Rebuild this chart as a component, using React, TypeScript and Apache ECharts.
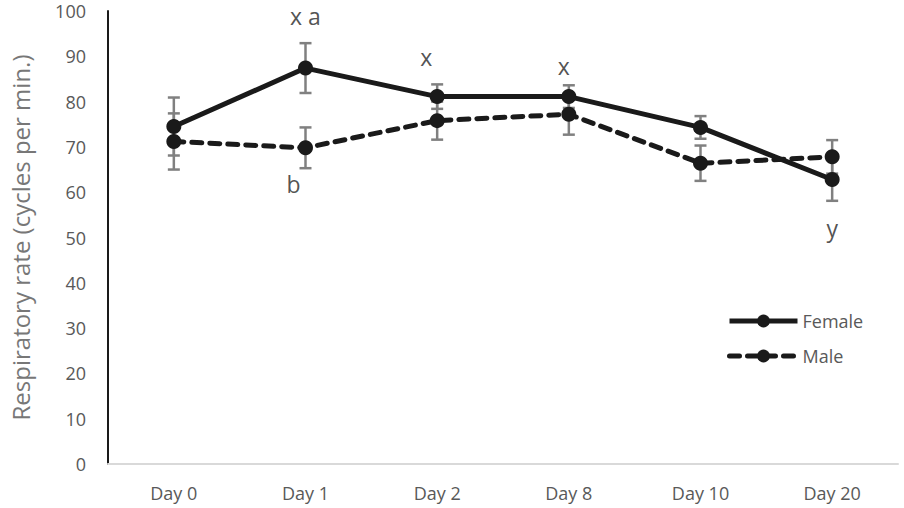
import React, { useEffect, useRef } from "react";
import * as echarts from "echarts";

const categories = ["Day 0", "Day 1", "Day 2", "Day 8", "Day 10", "Day 20"];
const femaleMean = [74.5, 87.4, 81.1, 81.1, 74.3, 62.8];
const femaleErr = [6.4, 5.5, 2.7, 2.5, 2.5, 4.7];
const maleMean = [71.2, 69.8, 75.8, 77.2, 66.4, 67.8];
const maleErr = [6.2, 4.5, 4.2, 4.5, 3.9, 3.7];

const annotationCats = ["Day 1", "Day 2", "Day 8", "Day 1", "Day 20"];
const annotationValues = [98.9, 89.9, 87.9, 61.9, 52.0];
const annotationTexts = ["x a", "x", "x", "b", "y"];
const annotationShift = [0, -11, -5, -12, 0];

const FONT = "'Open Sans', 'Noto Sans', sans-serif";

function errorSeries(name: string, mean: number[], err: number[]) {
  return {
    type: "custom",
    name: name + " err",
    z: 1,
    silent: true,
    data: categories.map((_, i) => [i, mean[i] + err[i], mean[i] - err[i]]),
    renderItem: (params: any, api: any) => {
      const x = api.value(0);
      const hi = api.coord([x, api.value(1)]);
      const lo = api.coord([x, api.value(2)]);
      const w = 6;
      const style = { stroke: "#808080", lineWidth: 2.5 };
      return {
        type: "group",
        children: [
          { type: "line", shape: { x1: hi[0], y1: hi[1], x2: lo[0], y2: lo[1] }, style },
          { type: "line", shape: { x1: hi[0] - w, y1: hi[1], x2: hi[0] + w, y2: hi[1] }, style },
          { type: "line", shape: { x1: lo[0] - w, y1: lo[1], x2: lo[0] + w, y2: lo[1] }, style },
        ],
      };
    },
  };
}

export default function App() {
  const ref = useRef<HTMLDivElement>(null);
  useEffect(() => {
    if (!ref.current) return;
    const chart = echarts.init(ref.current, undefined, { renderer: "svg" });
    chart.setOption({
      animation: false,
      textStyle: { fontFamily: FONT },
      grid: { left: 106, right: 6, top: 11, bottom: 44 },
      legend: {
        orient: "vertical",
        left: 722,
        top: 307,
        itemWidth: 68,
        itemHeight: 16,
        itemGap: 17,
        data: ["Female", "Male"],
        lineStyle: { width: 5 },
        textStyle: { fontSize: 18, color: "#595959", fontFamily: FONT },
      },
      xAxis: {
        type: "category",
        data: categories,
        boundaryGap: true,
        axisLine: { lineStyle: { color: "#d9d9d9", width: 2 } },
        axisTick: { show: false },
        axisLabel: { fontSize: 18, color: "#595959", margin: 20, fontFamily: FONT },
        splitLine: { show: false },
      },
      yAxis: {
        type: "value",
        min: 0,
        max: 100,
        interval: 10,
        name: "Respiratory rate (cycles per min.)",
        nameLocation: "middle",
        nameGap: 76,
        nameTextStyle: { fontSize: 24, color: "#777777", fontFamily: FONT },
        axisLine: { show: true, lineStyle: { color: "#1a1a1a", width: 2 } },
        axisTick: { show: false },
        axisLabel: { fontSize: 18, color: "#595959", margin: 22, fontFamily: FONT },
        splitLine: { show: false },
      },
      series: [
        errorSeries("Female", femaleMean, femaleErr),
        errorSeries("Male", maleMean, maleErr),
        {
          type: "line",
          name: "Female",
          z: 3,
          data: femaleMean,
          symbol: "circle",
          symbolSize: 15,
          itemStyle: { color: "#1a1a1a" },
          lineStyle: { color: "#1a1a1a", width: 5 },
        },
        {
          type: "line",
          name: "Male",
          z: 2,
          data: maleMean,
          symbol: "circle",
          symbolSize: 15,
          itemStyle: { color: "#1a1a1a" },
          lineStyle: { color: "#1a1a1a", width: 5, type: [10, 8], cap: "round" },
        },
        {
          type: "scatter",
          name: "annotations",
          z: 4,
          silent: true,
          symbolSize: 0,
          data: annotationCats.map((c, i) => ({
            value: [c, annotationValues[i]],
            label: {
              show: true,
              position: "inside",
              offset: [annotationShift[i], 0],
              formatter: annotationTexts[i],
              fontSize: 23,
              color: "#262626",
              fontFamily: FONT,
            },
          })),
        },
      ],
    });
    return () => chart.dispose();
  }, []);
  return <div ref={ref} style={{ width: 904, height: 508, position: "absolute", left: 0, top: 0 }} />;
}
